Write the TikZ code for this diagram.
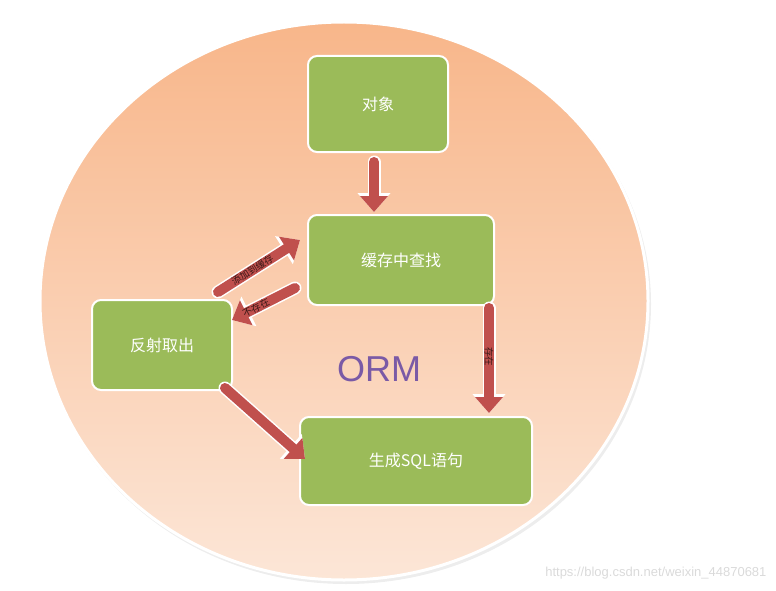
\documentclass[tikz,border=0pt]{standalone}
\usepackage{fontspec}
\setmainfont{Noto Sans CJK SC}
\newfontfamily\latinsans{Liberation Sans}
\usepackage{tikz}
\usetikzlibrary{arrows.meta,positioning,calc}
\definecolor{boxgreen}{HTML}{9BBB59}
\definecolor{arrowred}{HTML}{C0504D}
\definecolor{peachtop}{HTML}{F8B68A}
\definecolor{peachbot}{HTML}{FCE6D7}
\definecolor{ormpurple}{HTML}{7A5AA6}
\definecolor{markgray}{HTML}{DADADA}

\begin{document}
\begin{tikzpicture}[x=1pt,y=-1pt,
    stepbox/.style={draw=white,line width=2pt,fill=boxgreen,rounded corners=9pt,
      text=white,font=\fontsize{16}{16}\selectfont,inner sep=0pt},
    flow/.style={arrowred,line width=10pt,line cap=round,
      -{Triangle[length=16pt,width=27pt]},
      preaction={draw=white,line width=13pt,line cap=round,
        -{Triangle[length=19pt,width=32pt]}}},
    flowlab/.style={font=\fontsize{9.5}{9.5}\selectfont,text=black!70!arrowred,
      sloped,inner sep=0pt,pos=0.45}]
  \useasboundingbox (0,0) rectangle (776,591);

  % Background disc with soft peach gradient.
  \fill[black!7] (346,304) ellipse [x radius=305,y radius=280];
  \shade[top color=peachtop,bottom color=peachbot,draw=white,line width=3pt]
    (344,301) ellipse [x radius=304,y radius=279];

  \node[font=\latinsans\fontsize{36}{36}\selectfont,text=ormpurple] (orm) at (379,369) {ORM};

  % Steps.
  \node[stepbox,minimum width=140,minimum height=96] (obj) at (378,104) {对象};
  \node[stepbox,minimum width=186,minimum height=90] (cache) at (401,260) {缓存中查找};
  \node[stepbox,minimum width=140,minimum height=90] (reflect) at (162,345) {反射取出};
  \node[stepbox,minimum width=232,minimum height=88] (sql) at (416,461) {生成SQL语句};

  % Connectors.
  \coordinate (objout) at ($(obj.south)+(-4,9)$);
  \coordinate (cachein) at (objout |- cache.north);
  \draw[flow,shorten >=2pt] (objout) -- (cachein);
  \draw[flow] ($(reflect.north east)+(-15,-7)$) -- ($(cache.west)+(-7,-20)$)
    node[flowlab,pos=0.42] {添加到缓存};
  \draw[flow] ($(cache.west)+(-12,28)$) -- ($(reflect.north east)+(-1,21)$)
    node[flowlab,pos=0.62] {不存在};
  \draw[flow] ($(reflect.south east)+(-8,-3)$) -- ($(sql.west)+(6,-2)$);
  \coordinate (hit) at ($(cache.south east)+(-6,2)$);
  \draw[flow,shorten >=3pt] (hit) -- (hit |- sql.north)
    node[flowlab,pos=0.45] {存在};

  \node[anchor=east,font=\latinsans\fontsize{13}{13}\selectfont,text=markgray] (mark) at (770,573)
    {https://blog.csdn.net/weixin\_44870681};
\end{tikzpicture}
\end{document}
